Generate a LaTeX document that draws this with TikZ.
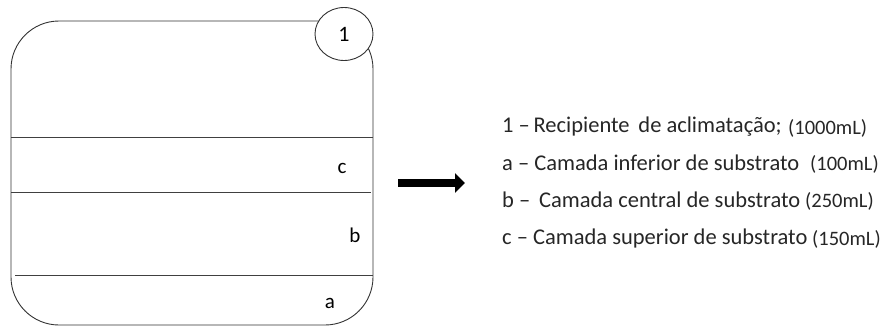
\documentclass[tikz,border=0pt]{standalone}
\usepackage{fontspec}
\setmainfont{Carlito}
\usetikzlibrary{shapes.geometric,arrows.meta}
\tikzset{
	layer/.style={line width=0.8pt, black!75},
	lbl/.style={font=\fontsize{21}{24}\selectfont, inner sep=0pt},
	item/.style={font=\fontsize{22.5}{26}\selectfont, anchor=west, inner sep=0pt, text=black!85},
	vol/.style={font=\fontsize{20.5}{24}\selectfont, anchor=west, inner sep=0pt, text=black!85}
}
\begin{document}
\begin{tikzpicture}[x=1pt, y=-1pt]
			\useasboundingbox (0, 0) rectangle (882, 327);
			%%draw the container
			\draw[line width=0.9pt, black!80, rounded corners=48pt] (11, 21) rectangle (373, 325);
			\node[ellipse, draw, line width=0.9pt, black!80, fill=white, minimum width=58pt, minimum height=53pt, inner sep=0pt, font=\fontsize{22}{26}\selectfont, text=black] (rec) at (344, 34){1};

			%%draw the layers
			\draw[layer](11, 137) to (373, 137);
			\draw[layer](11, 192) to (371, 192);
			\draw[layer](15, 275) to (373, 275);
				\node[lbl] (lc) at (342, 168){c};
				\node[lbl] (lb) at (355, 235){b};
				\node[lbl] (la) at (330, 303){a};

			%%draw the arrow
			\coordinate (arrS) at (398, 183);
			\coordinate (arrE) at (465, 183);
			\draw[line width=8pt, -{Triangle[length=10pt, width=19pt]}] (arrS) -- (arrE);

			%%legend
			\node[item] (l1) at (502, 127){1 --\,Recipiente\, de aclimatação;};
				\node[vol] (v1) at (788, 128){(1000mL)};
			\node[item] (l2) at (502, 163){a -- Camada inferior de substrato};
				\node[vol] (v2) at (810, 164){(100mL)};
			\node[item] (l3) at (502, 200){b --\, Camada central de substrato};
				\node[vol] (v3) at (805, 201){(250mL)};
			\node[item] (l4) at (502, 238){c -- Camada superior de substrato};
				\node[vol] (v4) at (812, 239){(150mL)};
		\end{tikzpicture}
\end{document}
